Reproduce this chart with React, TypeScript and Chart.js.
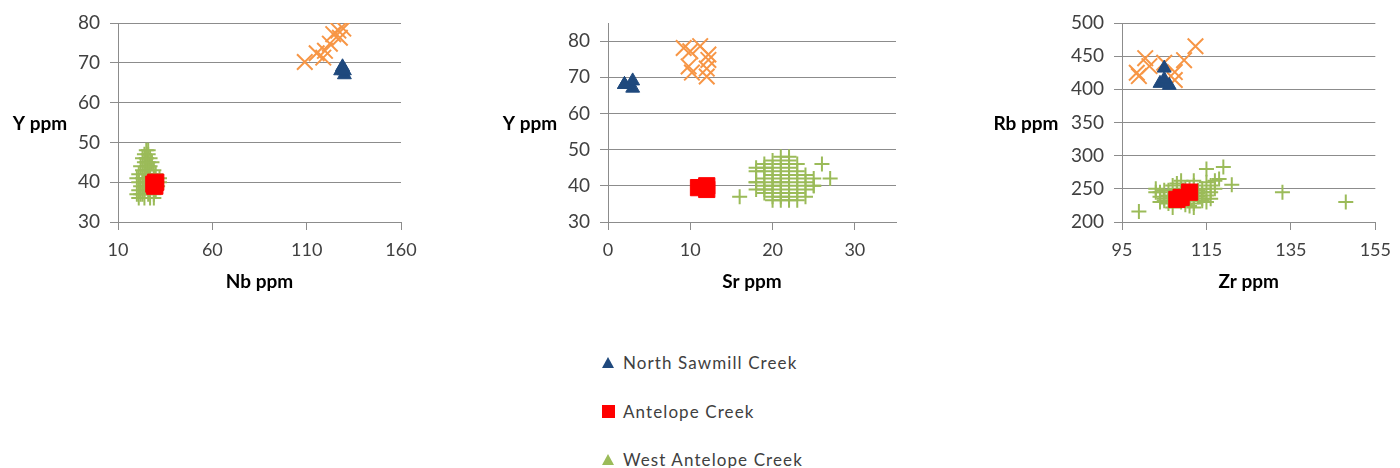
import React, { useEffect, useRef } from "react";
import { Chart, registerables } from "chart.js";

Chart.register(...registerables);

const FONT = "Lato, 'Open Sans', sans-serif";

// ---------- Data ----------
const seriesNames = ["North Sawmill Creek", "Antelope Creek", "West Antelope Creek", "Series 4"];

// North Sawmill Creek (dark blue triangles)
const nsNb = [128, 130, 129, 130];
const nsY = [68, 67, 69, 68];
const nsSr = [2, 3, 3, 2];
const nsZr = [105, 104, 106.2, 105];
const nsRb = [432, 409, 406, 415];

// Antelope Creek (red squares)
const acNb = [29, 30, 29.5];
const acY = [39.5, 40, 39];
const acSr = [11, 12, 12];
const acZr = [108, 111, 109];
const acRb = [234, 245, 237];

// West Antelope Creek (green plus signs)
const wacY = [48, 47, 47, 46, 46, 46, 45, 45, 45, 44, 44, 44, 43, 43, 43, 42, 42, 42, 42, 41, 41, 41, 41, 41, 40, 40, 40, 40, 40, 39, 39, 39, 39, 38, 38, 38, 38, 37, 37, 37, 37, 36, 36, 36, 36, 48, 46, 42, 37, 44, 43, 45, 39, 40, 41];
const wacNb = [25, 26, 24, 25, 27, 23, 24, 26, 28, 22, 25, 27, 23, 26, 29, 21, 24, 27, 30, 20, 23, 26, 29, 32, 21, 24, 27, 30, 32, 22, 25, 28, 31, 21, 24, 27, 30, 20, 23, 26, 29, 21, 24, 27, 29, 26, 25, 27, 22, 26, 25, 25, 24, 25, 25];
const wacSr = [21, 20, 22, 19, 21, 23, 20, 22, 19, 21, 23, 18, 20, 22, 24, 19, 21, 23, 25, 18, 20, 22, 24, 21, 19, 21, 23, 25, 20, 18, 20, 22, 24, 19, 21, 23, 22, 20, 22, 24, 21, 21, 23, 20, 22, 22, 26, 27, 16, 19, 20, 18, 19, 25, 18];
const wacZr = [108, 110, 112, 106, 109, 113, 107, 111, 115, 104, 108, 114, 106, 110, 116, 105, 109, 113, 117, 104, 107, 111, 114, 112, 103, 108, 112, 115, 110, 105, 109, 113, 116, 106, 110, 114, 108, 104, 111, 115, 107, 109, 112, 114, 116, 115, 119, 121, 99, 133, 148, 118, 117, 103, 105];
const wacRb = [250, 245, 255, 240, 262, 248, 238, 252, 260, 245, 235, 250, 248, 240, 255, 235, 244, 238, 250, 230, 255, 232, 245, 262, 245, 240, 228, 240, 250, 232, 236, 243, 235, 228, 226, 232, 258, 238, 224, 230, 222, 230, 222, 235, 245, 280, 283, 256, 216, 245, 230, 265, 262, 250, 248];

// Fourth series (orange crosses)
const s4Y = [70.2, 71.3, 72.4, 73.0, 74.8, 76.3, 77.2, 78.1, 78.6];
const s4Nb = [109, 118.8, 115.3, 119.7, 122.3, 127.6, 124.1, 126.8, 129.4];
const s4Sr = [12, 10.2, 12, 9.8, 12.2, 12.2, 10, 9.2, 11.2];
const s4Zr = [98.5, 99, 100.5, 101.5, 105, 107.5, 107.5, 109.7, 112.4];
const s4Rb = [425, 420, 447, 435, 440, 426, 414, 444, 465];

// Axis titles
const axisTitles = {
  nb: "Nb ppm",
  sr: "Sr ppm",
  zr: "Zr ppm",
  y: "Y ppm",
  rb: "Rb ppm",
};

// ---------- Styles ----------
const COLORS = {
  ns: "#1F497D",
  ac: "#FF0000",
  wac: "#9BBB59",
  s4: "#F79646",
  grid: "#8c8c8c",
  tick: "#404040",
  title: "#000000",
};

const zip = (xs: number[], ys: number[]) => xs.map((x, i) => ({ x, y: ys[i] }));

type PanelProps = {
  left: number;
  width: number;
  height: number;
  axisW: number;
  padRight: number;
  xData: number[][];
  yData: number[][];
  xMin: number;
  xMax: number;
  xStep: number;
  yMin: number;
  yMax: number;
  yStep: number;
  xTitle: string;
  yTitle: string;
  yTitleX: number;
};

function Panel(p: PanelProps) {
  const ref = useRef<HTMLCanvasElement | null>(null);
  useEffect(() => {
    if (!ref.current) return;
    const yTitlePlugin = {
      id: "hYTitle",
      afterDraw(chart: any) {
        const ctx = chart.ctx;
        ctx.save();
        ctx.font = `bold 19px ${FONT}`;
        ctx.fillStyle = COLORS.title;
        ctx.textAlign = "center";
        ctx.textBaseline = "middle";
        ctx.fillText(p.yTitle, p.yTitleX, 124);
        ctx.restore();
      },
    };
    const [xs0, xs1, xs2, xs3] = p.xData;
    const [ys0, ys1, ys2, ys3] = p.yData;
    const chart = new Chart(ref.current, {
      type: "scatter",
      data: {
        datasets: [
          {
            label: seriesNames[0],
            data: zip(xs0, ys0),
            pointStyle: "triangle",
            pointRadius: 8,
            pointHoverRadius: 8,
            backgroundColor: COLORS.ns,
            borderColor: COLORS.ns,
            borderWidth: 1,
          },
          {
            label: seriesNames[1],
            data: zip(xs1, ys1),
            pointStyle: "rect",
            pointRadius: 11.5,
            pointHoverRadius: 11.5,
            backgroundColor: COLORS.ac,
            borderColor: COLORS.ac,
            borderWidth: 1,
          },
          {
            label: seriesNames[2],
            data: zip(xs2, ys2),
            pointStyle: "cross",
            pointRadius: 7.5,
            pointHoverRadius: 7.5,
            backgroundColor: COLORS.wac,
            borderColor: COLORS.wac,
            borderWidth: 2,
          },
          {
            label: seriesNames[3],
            data: zip(xs3, ys3),
            pointStyle: "crossRot",
            pointRadius: 11,
            pointHoverRadius: 11,
            backgroundColor: COLORS.s4,
            borderColor: COLORS.s4,
            borderWidth: 2,
          },
        ],
      },
      options: {
        responsive: false,
        animation: false,
        layout: { padding: { top: 23, right: p.padRight, left: 0, bottom: 0 } },
        plugins: {
          legend: { display: false },
          tooltip: { enabled: false },
        },
        scales: {
          x: {
            type: "linear",
            min: p.xMin,
            max: p.xMax,
            afterFit: (s: any) => {
              s.height = 78;
            },
            ticks: {
              stepSize: p.xStep,
              includeBounds: false,
              padding: 9,
              color: COLORS.tick,
              font: { family: FONT, size: 18 },
            },
            grid: {
              drawOnChartArea: false,
              drawTicks: true,
              tickLength: 8,
              color: COLORS.grid,
            },
            border: { display: true, color: COLORS.grid },
            title: {
              display: true,
              text: p.xTitle,
              color: COLORS.title,
              font: { family: FONT, size: 19, weight: "bold" },
              padding: { top: 0, bottom: 7 },
            },
          },
          y: {
            type: "linear",
            min: p.yMin,
            max: p.yMax,
            afterFit: (s: any) => {
              s.width = p.axisW;
            },
            ticks: {
              stepSize: p.yStep,
              includeBounds: false,
              padding: 10,
              color: COLORS.tick,
              font: { family: FONT, size: 19 },
            },
            grid: {
              drawOnChartArea: true,
              drawTicks: true,
              tickLength: 8,
              color: COLORS.grid,
            },
            border: { display: true, color: COLORS.grid },
          },
        },
      },
      plugins: [yTitlePlugin],
    } as any);
    return () => chart.destroy();
  }, []);
  return (
    <canvas
      ref={ref}
      width={p.width}
      height={p.height}
      style={{ position: "absolute", left: p.left, top: 0, width: p.width, height: p.height, display: "block" }}
    />
  );
}

function LegendItem({ kind, color, text, top }: { kind: "tri" | "sq"; color: string; text: string; top: number }) {
  const marker =
    kind === "tri" ? (
      <div
        style={{
          width: 0,
          height: 0,
          borderLeft: "6px solid transparent",
          borderRight: "6px solid transparent",
          borderBottom: `11px solid ${color}`,
        }}
      />
    ) : (
      <div style={{ width: 13, height: 13, background: color }} />
    );
  return (
    <div style={{ position: "absolute", left: 602, top: top - 12, height: 24, display: "flex", alignItems: "center" }}>
      <div style={{ width: 21, display: "flex", alignItems: "center" }}>{marker}</div>
      <span style={{ fontFamily: FONT, fontSize: 17, color: COLORS.tick, letterSpacing: 1.1, whiteSpace: "nowrap" }}>{text}</span>
    </div>
  );
}

export default function App() {
  return (
    <div style={{ position: "absolute", left: 0, top: 0, width: 1400, height: 468, background: "#fff", overflow: "hidden" }}>
      <Panel
        left={0}
        width={430}
        height={300}
        axisW={118}
        padRight={29}
        xData={[nsNb, acNb, wacNb, s4Nb]}
        yData={[nsY, acY, wacY, s4Y]}
        xMin={10}
        xMax={160}
        xStep={50}
        yMin={30}
        yMax={80}
        yStep={10}
        xTitle={axisTitles.nb}
        yTitle={axisTitles.y}
        yTitleX={40}
      />
      <Panel
        left={480}
        width={430}
        height={300}
        axisW={128}
        padRight={14}
        xData={[nsSr, acSr, wacSr, s4Sr]}
        yData={[nsY, acY, wacY, s4Y]}
        xMin={0}
        xMax={35}
        xStep={10}
        yMin={30}
        yMax={85}
        yStep={10}
        xTitle={axisTitles.sr}
        yTitle={axisTitles.y}
        yTitleX={50}
      />
      <Panel
        left={960}
        width={440}
        height={300}
        axisW={162}
        padRight={19}
        xData={[nsZr, acZr, wacZr, s4Zr]}
        yData={[nsRb, acRb, wacRb, s4Rb]}
        xMin={95}
        xMax={155}
        xStep={20}
        yMin={200}
        yMax={500}
        yStep={50}
        xTitle={axisTitles.zr}
        yTitle={axisTitles.rb}
        yTitleX={66}
      />
      <LegendItem kind="tri" color={COLORS.ns} text={seriesNames[0]} top={362} />
      <LegendItem kind="sq" color={COLORS.ac} text={seriesNames[1]} top={411} />
      <LegendItem kind="tri" color={COLORS.wac} text={seriesNames[2]} top={459} />
    </div>
  );
}
